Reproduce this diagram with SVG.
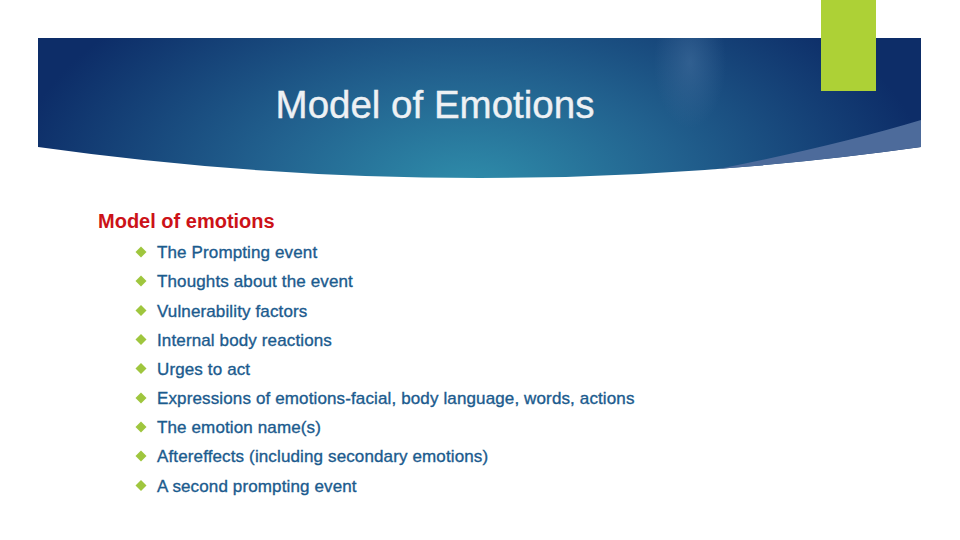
<svg xmlns="http://www.w3.org/2000/svg" width="960" height="540" viewBox="0 0 960 540">
  <style>
    .title { font-family: "Liberation Sans", Arial, sans-serif; font-size: 38.5px; fill: #eef1f4; stroke: #eef1f4; stroke-width: 0.4; }
    .sub { font-family: "Liberation Sans", Arial, sans-serif; font-size: 20px; font-weight: bold; fill: #cc1218; }
    .item { font-family: "Liberation Sans", Arial, sans-serif; font-size: 17px; letter-spacing: 0.13px; fill: #1b5b8e; stroke: #1b5b8e; stroke-width: 0.35; }
    .bul { fill: #9fc63e; }
  </style>
  <defs>
    <radialGradient id="bg" cx="470" cy="190" r="460" gradientUnits="userSpaceOnUse" gradientTransform="translate(470 190) scale(1 0.55) translate(-470 -190)">
      <stop offset="0" stop-color="#2f8eab"/>
      <stop offset="0.45" stop-color="#22628f"/>
      <stop offset="1" stop-color="#0d2d68"/>
    </radialGradient>
    <radialGradient id="glow" cx="690" cy="62" r="60" gradientUnits="userSpaceOnUse" gradientTransform="translate(690 62) scale(0.6 1.1) translate(-690 -62)">
      <stop offset="0" stop-color="#44709f" stop-opacity="0.55"/>
      <stop offset="1" stop-color="#44709f" stop-opacity="0"/>
    </radialGradient>
    <clipPath id="bannerClip">
      <path d="M38 38 H921 V147 Q480 209 38 147 Z"/>
    </clipPath>
  </defs>

  <rect width="960" height="540" fill="#ffffff"/>

  <g id="banner">
    <path d="M38 38 H921 V147 Q480 209 38 147 Z" fill="url(#bg)"/>
    <rect x="38" y="38" width="883" height="150" fill="url(#glow)" clip-path="url(#bannerClip)"/>
    <path d="M921 120 Q815 152 650 182 L960 200 L960 100 Z" fill="#4d6b9b" clip-path="url(#bannerClip)"/>
  </g>

  <g id="accent">
    <rect x="821" y="0" width="55" height="91" fill="#add136"/>
  </g>

  <g id="title">
    <text class="title" x="435" y="118" text-anchor="middle">Model of Emotions</text>
  </g>

  <g id="subtitle">
    <text class="sub" x="98" y="228">Model of emotions</text>
  </g>

  <g id="bullets">
    <g id="b1"><path class="bul" d="M141 246.5 l5.5 5.5 l-5.5 5.5 l-5.5 -5.5 Z"/><text class="item" x="157" y="258">The Prompting event</text></g>
    <g id="b2"><path class="bul" d="M141 275.5 l5.5 5.5 l-5.5 5.5 l-5.5 -5.5 Z"/><text class="item" x="157" y="287">Thoughts about the event</text></g>
    <g id="b3"><path class="bul" d="M141 305 l5.5 5.5 l-5.5 5.5 l-5.5 -5.5 Z"/><text class="item" x="157" y="316.5">Vulnerability factors</text></g>
    <g id="b4"><path class="bul" d="M141 334 l5.5 5.5 l-5.5 5.5 l-5.5 -5.5 Z"/><text class="item" x="157" y="345.5">Internal body reactions</text></g>
    <g id="b5"><path class="bul" d="M141 363 l5.5 5.5 l-5.5 5.5 l-5.5 -5.5 Z"/><text class="item" x="157" y="374.5">Urges to act</text></g>
    <g id="b6"><path class="bul" d="M141 392.5 l5.5 5.5 l-5.5 5.5 l-5.5 -5.5 Z"/><text class="item" x="157" y="404">Expressions of emotions-facial, body language, words, actions</text></g>
    <g id="b7"><path class="bul" d="M141 421.5 l5.5 5.5 l-5.5 5.5 l-5.5 -5.5 Z"/><text class="item" x="157" y="433">The emotion name(s)</text></g>
    <g id="b8"><path class="bul" d="M141 450.5 l5.5 5.5 l-5.5 5.5 l-5.5 -5.5 Z"/><text class="item" x="157" y="462">Aftereffects (including secondary emotions)</text></g>
    <g id="b9"><path class="bul" d="M141 480 l5.5 5.5 l-5.5 5.5 l-5.5 -5.5 Z"/><text class="item" x="157" y="491.5">A second prompting event</text></g>
  </g>
</svg>
